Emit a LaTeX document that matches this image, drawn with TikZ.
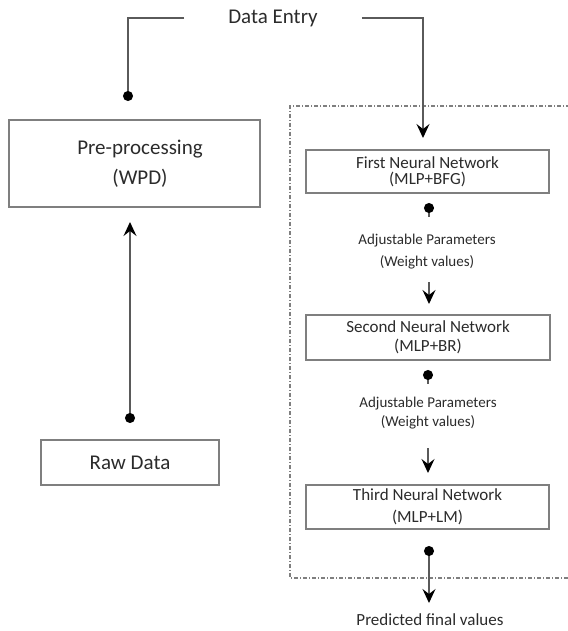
\documentclass[tikz,border=0pt]{standalone}
\usepackage{fontspec}
\setmainfont{Carlito}
\usetikzlibrary{arrows.meta}
\definecolor{txt}{HTML}{2B2B2B}
\definecolor{boxline}{HTML}{7F7F7F}
\definecolor{conn}{HTML}{5A5A5A}
\tikzset{
  boxnode/.style={draw=boxline, line width=1.3pt, text=txt, align=center, inner sep=0pt},
  lbl/.style={text=txt, align=center, inner sep=0pt},
  conline/.style={draw=conn, line width=1.3pt},
  tip/.style={-{Stealth[length=14pt,width=13pt,inset=5pt,color=black]}},
  dotstart/.style={{Circle[length=10pt,color=black]}-},
  dotend/.style={-{Circle[length=10pt,color=black]}},
  dotarrow/.style={{Circle[length=10pt,color=black]}-{Stealth[length=14pt,width=13pt,inset=5pt,color=black]}},
  frame/.style={draw=boxline, line width=1.1pt, dash pattern=on 4pt off 2pt on 1pt off 2pt}
}
\begin{document}
\begin{tikzpicture}[x=1pt,y=-1pt]
\useasboundingbox (0,0) rectangle (567,631);
% frame
\draw[frame] (570,106) -- (290,106) -- (290,578) -- (570,578);
% top
\node[lbl, font=\fontsize{21}{24}\selectfont, inner xsep=44pt] (de) at (273,18) {Data Entry};
% left column
\node[boxnode, minimum width=251pt, minimum height=87pt, font=\fontsize{21}{33}\selectfont] (pre) at (134.5,163.5) {\raisebox{-3pt}{\hspace*{11pt}Pre-processing}\\\hspace*{11pt}(WPD)};
\node[boxnode, minimum width=178pt, minimum height=45pt, font=\fontsize{21}{24}\selectfont] (raw) at (130,462.5) {Raw Data};
% right column
\node[boxnode, minimum width=243pt, minimum height=43pt, font=\fontsize{17}{19}\selectfont] (fnn) at (427.5,171.5) {\raisebox{-3pt}{First Neural Network}\\(MLP+BFG)};
\node[lbl, font=\fontsize{15}{22}\selectfont] (adj1) at (427,252) {Adjustable Parameters\\(Weight values)};
\node[boxnode, minimum width=244pt, minimum height=45pt, font=\fontsize{17}{21}\selectfont] (snn) at (428,337.5) {\raisebox{-2pt}{Second Neural Network}\\(MLP+BR)};
\node[lbl, font=\fontsize{15}{19}\selectfont] (adj2) at (428,413) {Adjustable Parameters\\(Weight values)};
\node[boxnode, minimum width=243pt, minimum height=44pt, font=\fontsize{17}{24}\selectfont] (tnn) at (427.5,507) {\raisebox{-2pt}{Third Neural Network}\\(MLP+LM)};
\node[lbl, font=\fontsize{17}{20}\selectfont] (pfv) at (430,620) {Predicted final values};
% coordinates
\coordinate (predot) at (128,101);
\coordinate (fnntip) at (423,138);
\coordinate (rawdot) at (130,423);
\coordinate (pretip) at (130,222);
\coordinate (d1a) at (429,203);
\coordinate (d1b) at (429,217);
\coordinate (a1a) at (429,282);
\coordinate (a1b) at (429,304);
\coordinate (d2a) at (428,370);
\coordinate (d2b) at (428,384);
\coordinate (a2a) at (428,448);
\coordinate (a2b) at (428,473);
\coordinate (d3a) at (429,546);
\coordinate (d3b) at (429,603);
% connectors
\draw[conline, dotend] (de.west) -| (predot);
\draw[conline, tip] (de.east) -| (fnntip);
\draw[conline, dotarrow] (rawdot) -- (pretip);
\draw[conline, dotstart] (d1a) -- (d1b);
\draw[conline, tip] (a1a) -- (a1b);
\draw[conline, dotstart] (d2a) -- (d2b);
\draw[conline, tip] (a2a) -- (a2b);
\draw[conline, dotarrow] (d3a) -- (d3b);
\end{tikzpicture}
\end{document}
